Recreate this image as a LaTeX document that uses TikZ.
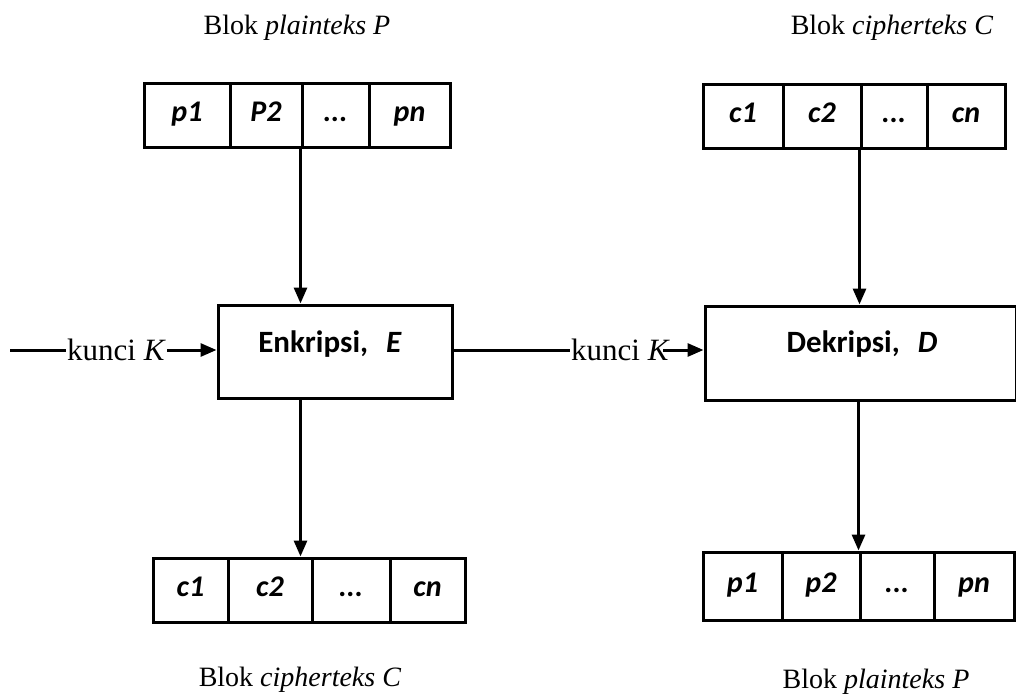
\documentclass[tikz,border=0pt]{standalone}
\usepackage{fontspec}
\setmainfont{Liberation Serif}
\newfontfamily\cellfont{Carlito}
\usetikzlibrary{arrows.meta}

\begin{document}
\begin{tikzpicture}[x=1pt,y=-1pt,
  boxline/.style={draw=black,line width=3pt},
  cell/.style={boxline,inner sep=0pt,minimum height=64pt,
    text height=20pt,text depth=8pt,
    font=\cellfont\bfseries\itshape\fontsize{30}{33}\selectfont},
  procbox/.style={boxline,inner sep=0pt},
  proctext/.style={anchor=base,inner sep=0pt,font=\cellfont\bfseries\fontsize{31}{34}\selectfont},
  blocklabel/.style={anchor=base,inner sep=0pt,font=\fontsize{28}{31}\selectfont},
  keytext/.style={inner sep=1pt,font=\fontsize{31}{34}\selectfont},
  wire/.style={line width=3pt},
  flow/.style={line width=3pt,-{Triangle[length=16pt,width=13pt]}}
]
\useasboundingbox (0,0) rectangle (1016,695);

% block labels
\node[blocklabel] (lblPin)  at (297,35)  {Blok \textit{plainteks P}};
\node[blocklabel] (lblCin)  at (892,35)  {Blok \textit{cipherteks C}};
\node[blocklabel] (lblCout) at (300,686) {Blok \textit{cipherteks C}};
\node[blocklabel] (lblPout) at (876,688) {Blok \textit{plainteks P}};

% plaintext block (input to encryption)
\node[cell,minimum width=86pt] (pa1) at (187,116) {p1};
\node[cell,minimum width=72pt] (pa2) at (266,116) {P2};
\node[cell,minimum width=67pt] (pa3) at (335.5,116) {...};
\node[cell,minimum width=81pt] (pa4) at (409.5,116) {pn};

% ciphertext block (input to decryption)
\node[cell,minimum width=80pt] (ca1) at (743,117) {c1};
\node[cell,minimum width=78pt] (ca2) at (822,117) {c2};
\node[cell,minimum width=66pt] (ca3) at (894,117) {...};
\node[cell,minimum width=78pt] (ca4) at (966,117) {cn};

% ciphertext block (output of encryption)
\node[cell,minimum width=75pt] (cb1) at (190.5,590) {c1};
\node[cell,minimum width=84pt] (cb2) at (270,590) {c2};
\node[cell,minimum width=78pt] (cb3) at (351,590) {...};
\node[cell,minimum width=75pt] (cb4) at (427.5,590) {cn};

% plaintext block (output of decryption)
\node[cell,minimum width=79pt,minimum height=68pt] (pb1) at (742.5,586) {p1};
\node[cell,minimum width=78pt,minimum height=68pt] (pb2) at (821,586) {p2};
\node[cell,minimum width=74pt,minimum height=68pt] (pb3) at (897,586) {...};
\node[cell,minimum width=80pt,minimum height=68pt] (pb4) at (974,586) {pn};

% processing boxes
\node[procbox,minimum width=234pt,minimum height=93pt] (enc) at (335,351.5) {};
\node[proctext] (enctext) at (330,352) {Enkripsi,\hspace{18pt}\textit{E}};
\node[procbox,minimum width=311pt,minimum height=94pt] (dec) at (860.5,353) {};
\node[proctext] (dectext) at (862,352) {Dekripsi,\hspace{18pt}\textit{D}};

% key inputs
\coordinate (keyL0) at (10,350);
\node[keytext,anchor=west] (keyL) at (66,350) {kunci \textit{K}};
\node[keytext,anchor=west] (keyR) at (570,350) {kunci \textit{K}};

\draw[wire] (keyL0) -- (keyL.west);
\draw[flow] (keyL.east) -- (keyL.east -| enc.west);
\draw[wire] (enc.east |- keyR) -- (keyR.west);
\draw[flow] ([xshift=-8pt]keyR.east) -- (keyR.east -| dec.west);

% data flow
\draw[flow] (pa3.south west) -- (pa3.south west |- enc.north);
\draw[flow] ([xshift=-10pt]enc.south -| cb3.north west) -- ([xshift=-10pt]cb3.north west);
\draw[flow] (ca3.south west) -- (ca3.south west |- dec.north);
\draw[flow] (dec.south -| pb3.north west) -- (pb3.north west);
\end{tikzpicture}
\end{document}
